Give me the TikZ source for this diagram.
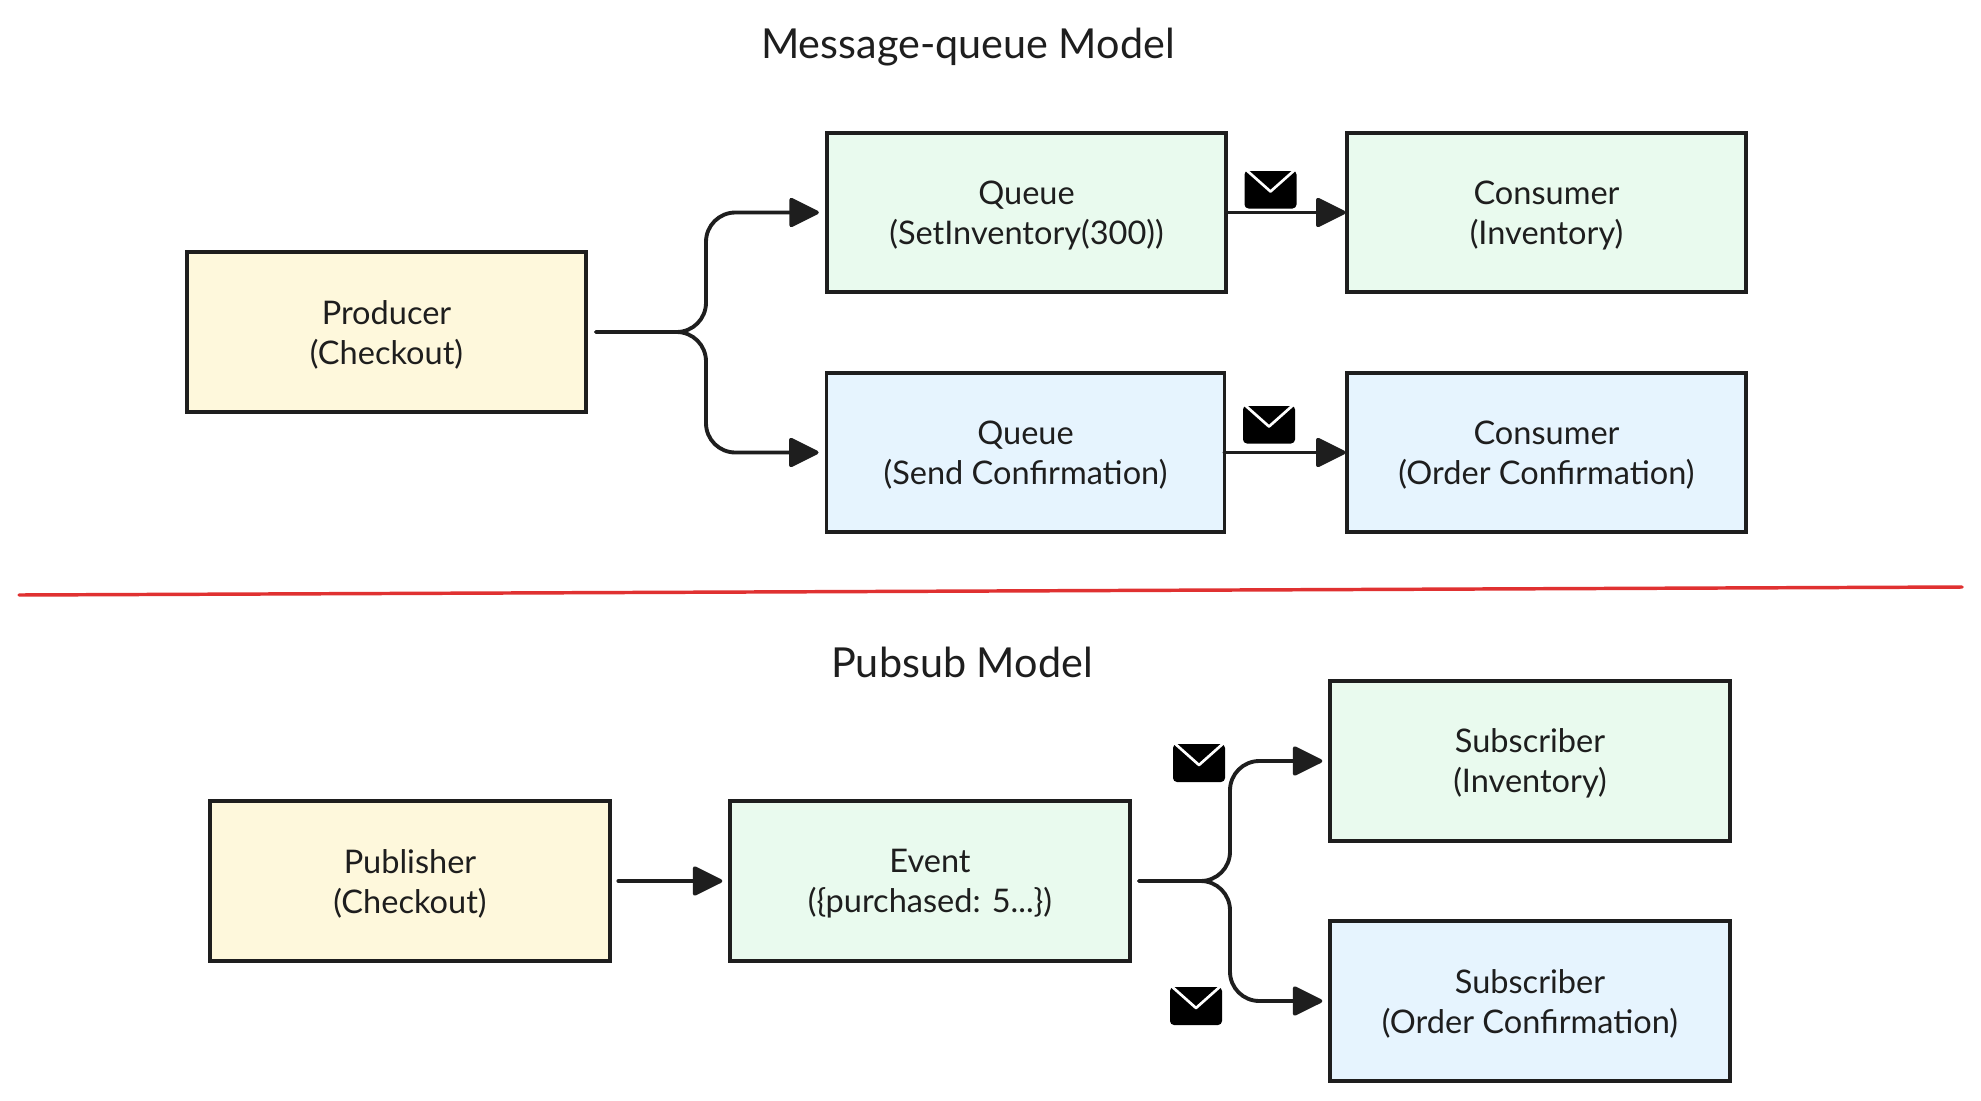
\documentclass[tikz,border=0pt]{standalone}
\usepackage{fontspec}
\setmainfont{Lato}
\usetikzlibrary{arrows.meta,positioning,calc}
\definecolor{ink}{HTML}{1E1E1E}
\definecolor{fillyellow}{HTML}{FEF8DC}
\definecolor{fillgreen}{HTML}{E9FAEE}
\definecolor{fillblue}{HTML}{E6F4FE}
\definecolor{redline}{HTML}{E03131}
\newcommand{\lowstrut}{\rule{0pt}{22pt}}
\tikzset{
  x=0.75pt,y=-0.75pt,
  box/.style={draw=ink,line width=2.9pt,minimum width=299.5pt,minimum height=119.5pt,inner sep=0pt,outer sep=0pt,align=center,text=ink,font=\fontsize{24.4}{30}\selectfont},
  ybox/.style={box,fill=fillyellow},
  gbox/.style={box,fill=fillgreen},
  bbox/.style={box,fill=fillblue},
  title/.style={text=ink,inner sep=0pt,font=\fontsize{31}{36}\selectfont},
  conn/.style={draw=ink,line width=2.9pt,line cap=round,-{Triangle[length=24pt,width=23pt,round]},rounded corners=22pt},
  envelope/.pic={
    \fill[black,rounded corners=3pt] (-26,-19) -- (26,-19) -- (26,19) -- (-26,19) -- cycle;
    \fill[black] (-24,-19) rectangle (24,-12);
    \draw[white,line width=2pt,line cap=round,line join=round] (-27,-22) -- (0,2) -- (27,-22);
    \fill[white] (-28,-24) rectangle (28,-19);
  }
}
\begin{document}
\begin{tikzpicture}
\useasboundingbox (0,0) rectangle (1981,1100);
\fill[white] (0,0) rectangle (1981,1100);
\node[title] (t1) at (968,47) {Message-queue Model};
\node[title] (t2) at (962,662) {Pubsub Model};
\node[ybox] (prod) at (386.5,332) {\lowstrut Producer\\(Checkout)};
\node[gbox] (q1) at (1026.5,212.5) {\lowstrut Queue\\(SetInventory(300))};
\node[gbox] (c1) at (1546.5,212.5) {\lowstrut Consumer\\(Inventory)};
\node[bbox,minimum width=298.5pt] (q2) at (1025.5,452.5) {\lowstrut Queue\\(Send Confirmation)};
\node[bbox] (c2) at (1546.5,452.5) {\lowstrut Consumer\\(Order Confirmation)};
\node[ybox] (pub) at (410,881) {\lowstrut Publisher\\(Checkout)};
\node[gbox] (ev) at (930,881) {\lowstrut Event\\(\{purchased: 5...\})};
\node[gbox] (s1) at (1530,761) {\lowstrut Subscriber\\(Inventory)};
\node[bbox] (s2) at (1530,1001) {\lowstrut Subscriber\\(Order Confirmation)};
\coordinate (b1) at (706,332);
\coordinate (b2) at (1230,881);
\coordinate (r1) at (19,595);
\coordinate (r2) at (1962,587);
\draw[redline,line width=2.6pt,line cap=round] (r1) -- (r2);
\draw[conn,shorten <=7.5pt,shorten >=6pt] (prod.east) -- (b1) -- (b1 |- q1.west) -- (q1.west);
\draw[conn,shorten <=7.5pt,shorten >=6pt] (prod.east) -- (b1) -- (b1 |- q2.west) -- (q2.west);
\draw[conn,shorten >=1pt] (q1.east) -- (c1.west);
\draw[conn,shorten >=1pt] (q2.east) -- (c2.west);
\draw[conn,shorten <=6.5pt,shorten >=6pt] (pub.east) -- (ev.west);
\draw[conn,shorten <=7pt,shorten >=6pt] (ev.east) -- (b2) -- (b2 |- s1.west) -- (s1.west);
\draw[conn,shorten <=7pt,shorten >=6pt] (ev.east) -- (b2) -- (b2 |- s2.west) -- (s2.west);
\pic at (1270.5,189.5) {envelope};
\pic at (1269,424.5) {envelope};
\pic at (1199,763) {envelope};
\pic at (1196,1006) {envelope};
\end{tikzpicture}
\end{document}
